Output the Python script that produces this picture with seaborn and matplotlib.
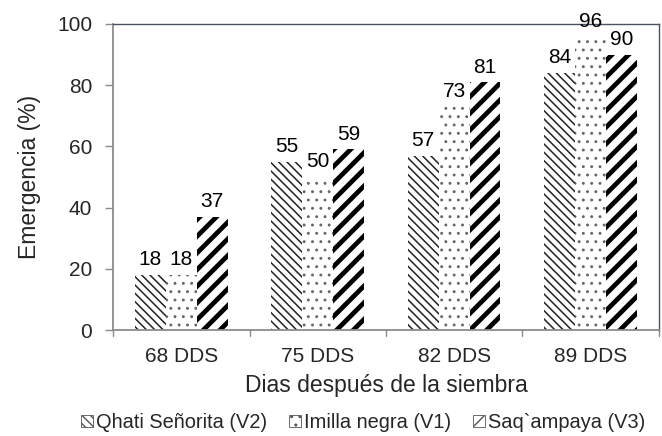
import matplotlib
matplotlib.use("Agg")
import matplotlib.pyplot as plt
from matplotlib.patches import Patch
import seaborn as sns
import pandas as pd

categories = ["68 DDS", "75 DDS", "82 DDS", "89 DDS"]
varieties = ["Qhati Señorita (V2)", "Imilla negra (V1)", "Saq`ampaya (V3)"]
qhati = [18, 55, 57, 84]
imilla = [18, 50, 73, 96]
saqampaya = [37, 59, 81, 90]

df = pd.DataFrame({
    "dias": categories * 3,
    "variedad": [varieties[0]] * 4 + [varieties[1]] * 4 + [varieties[2]] * 4,
    "emergencia": qhati + imilla + saqampaya,
})

sns.set_theme(style="white")
plt.rcParams["font.family"] = ["Liberation Sans", "DejaVu Sans"]

fig, ax = plt.subplots(figsize=(6.62, 4.36), dpi=100)
fig.subplots_adjust(left=0.171, right=0.995, top=0.945, bottom=0.243)

sns.barplot(data=df, x="dias", y="emergencia", hue="variedad",
            hue_order=varieties, order=categories, ax=ax,
            palette=["white"] * 3, width=0.68,
            saturation=1, legend=False)

# one fill pattern per variety: fine back-diagonals, sparse dots, bold diagonals
hatches = ["\\\\\\\\", "..", "//"]
hatch_lw = [1.1, 0.9, 3.4]
hatch_ec = ["#222222", "#666666", "black"]
for cont, h, lw, ec in zip(ax.containers, hatches, hatch_lw, hatch_ec):
    for p in cont:
        p.set_facecolor("white")
        p.set_edgecolor(ec)
        p.set_linewidth(0)
        p.set_hatch(h)
        try:
            p.set_hatch_linewidth(lw)
        except AttributeError:
            pass
    ax.bar_label(cont, fmt="%d", padding=4, fontsize=15, color="black")

ax.set_ylim(0, 100)
ax.set_yticks([0, 20, 40, 60, 80, 100])
ax.set_xlim(-0.5, 3.5)
ax.tick_params(axis="y", labelsize=15, length=6, width=1, color="#8c8c8c",
               direction="out", left=True, pad=9)
ax.tick_params(axis="x", labelsize=15, length=0, pad=12)
for x in [-0.5, 0.5, 1.5, 2.5, 3.5]:
    ax.plot([x, x], [0, -0.02], transform=ax.get_xaxis_transform(),
            color="#8c8c8c", lw=1, clip_on=False)
for s in ["left", "bottom"]:
    ax.spines[s].set_color("#8c8c8c")
    ax.spines[s].set_linewidth(1.3)
for s in ["top", "right"]:
    ax.spines[s].set_color("#4a5260")
    ax.spines[s].set_linewidth(1.0)

ax.set_xlabel("Dias después de la siembra", fontsize=16.5, labelpad=6)
ax.set_ylabel("Emergencia (%)", fontsize=16.5, labelpad=12)

handles = []
for h in hatches:
    pt = Patch(facecolor="white", edgecolor="#555555", linewidth=0.6, hatch=h)
    try:
        pt.set_hatch_linewidth(1.0)
    except AttributeError:
        pass
    handles.append(pt)
fig.legend(handles, varieties, loc="center", bbox_to_anchor=(0.548, 0.03),
           ncol=3, frameon=False, fontsize=14.4, handlelength=0.6,
           handleheight=0.55, handletextpad=0.15, columnspacing=1.1)

fig.savefig("out.png", dpi=100)
